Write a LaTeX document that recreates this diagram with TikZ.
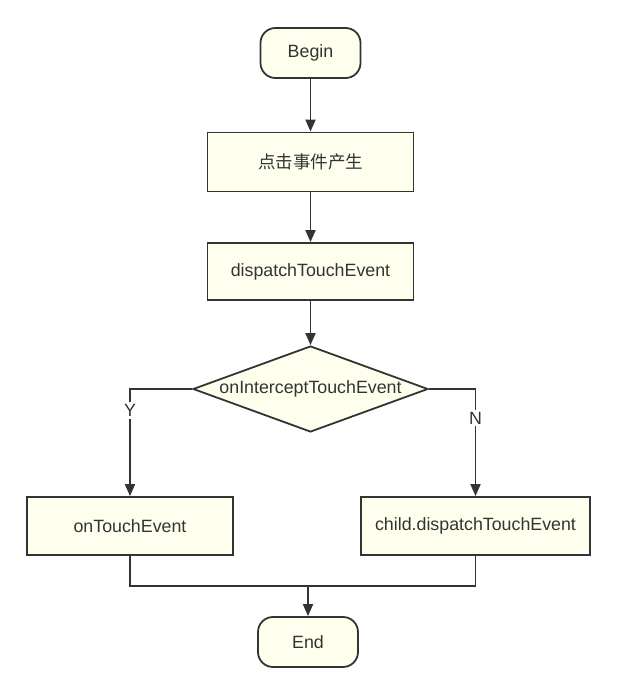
\documentclass[tikz,border=0pt]{standalone}
\usepackage{fontspec}
\setmainfont{Liberation Sans}
\newfontfamily\cjk{Noto Sans CJK SC}
\usetikzlibrary{shapes.geometric,arrows.meta}
\definecolor{boxfill}{HTML}{FFFFEE}
\definecolor{linecol}{HTML}{333333}
\tikzset{
  base/.style={draw=linecol, line width=1.8pt, fill=boxfill, inner sep=0pt, font=\fontsize{17.8}{20}\selectfont, text=linecol},
  terminal/.style={base, rectangle, rounded corners=15pt, minimum width=100pt, minimum height=50pt},
  procbox/.style={base, rectangle, minimum width=206pt, minimum height=59pt},
  decision/.style={base, diamond, minimum width=235pt, minimum height=86pt},
  conn/.style={draw=linecol, line width=1.8pt},
  arr/.style={conn, -{Triangle[length=12pt,width=10pt]}},
  lbl/.style={fill=white, inner sep=2pt, text=linecol, font=\fontsize{17.8}{20}\selectfont}
}
\begin{document}
\begin{tikzpicture}[x=1pt,y=-1pt]
\useasboundingbox (0,0) rectangle (620,698);
\node[terminal] (begin) at (310.5,53) {Begin};
\node[procbox] (s1) at (310.5,162) {\cjk\fontsize{17.5}{20}\selectfont 点击事件产生};
\node[procbox, minimum height=57pt] (s2) at (310.5,271.5) {dispatchTouchEvent};
\node[decision] (dec) at (310.5,389) {\makebox[0pt]{onInterceptTouchEvent}};
\node[procbox, minimum height=58pt] (left) at (130,526) {onTouchEvent};
\node[procbox, minimum width=229pt, minimum height=58pt] (right) at (475.5,526) {child.dispatchTouchEvent};
\node[terminal] (end) at (308,642) {End};
\coordinate (m) at (308,586);
\draw[arr] (begin) -- (s1);
\draw[arr] (s1) -- (s2);
\draw[arr] (s2) -- (dec);
\draw[arr] (dec.west) -| node[lbl, pos=0.6] {Y} (left.north);
\draw[arr] (dec.east) -| node[lbl, pos=0.635] {N} (right.north);
\draw[conn] (left.south) |- (m) -| (right.south);
\draw[arr] (m) -- (end);
\end{tikzpicture}
\end{document}
